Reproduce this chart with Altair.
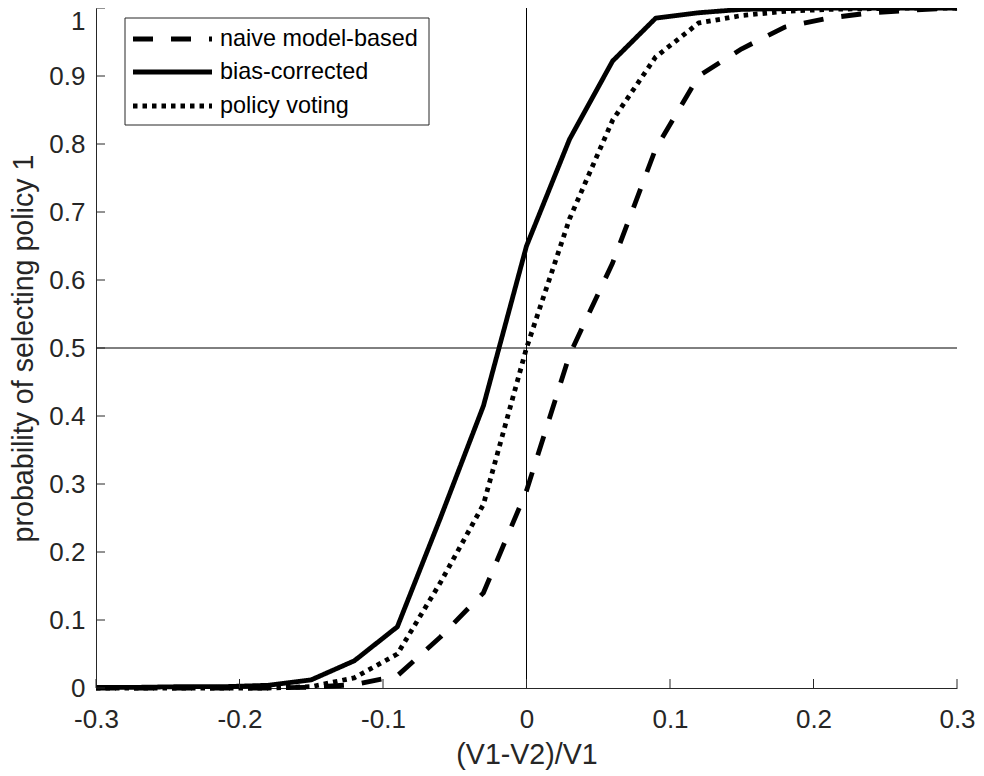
import altair as alt
import pandas as pd

# ---- data ----
x_vals = [-0.30, -0.27, -0.24, -0.21, -0.18, -0.15, -0.12, -0.09, -0.06, -0.03,
          0.00, 0.03, 0.06, 0.09, 0.12, 0.15, 0.18, 0.21, 0.24, 0.27, 0.30]
naive = [0.000, 0.000, 0.000, 0.000, 0.000, 0.001, 0.005, 0.018, 0.075, 0.140,
         0.290, 0.490, 0.625, 0.793, 0.900, 0.940, 0.972, 0.985, 0.993, 0.997, 1.000]
bias = [0.001, 0.001, 0.002, 0.002, 0.004, 0.012, 0.040, 0.090, 0.250, 0.415,
        0.650, 0.807, 0.922, 0.985, 0.993, 0.998, 0.999, 1.000, 1.000, 1.000, 1.000]
policy = [0.000, 0.000, 0.000, 0.000, 0.000, 0.002, 0.015, 0.050, 0.155, 0.270,
          0.500, 0.690, 0.835, 0.928, 0.978, 0.989, 0.995, 0.998, 0.999, 1.000, 1.000]
series_names = ["naive model-based", "bias-corrected", "policy voting"]
x_ticks = [-0.3, -0.2, -0.1, 0.0, 0.1, 0.2, 0.3]
y_ticks = [0.0, 0.1, 0.2, 0.3, 0.4, 0.5, 0.6, 0.7, 0.8, 0.9, 1.0]
ref_x = [0.0]
ref_y = [0.5]

rows = []
for name, vals in zip(series_names, [naive, bias, policy]):
    for xv, pv in zip(x_vals, vals):
        rows.append({"x": xv, "p": pv, "series": name})
df = pd.DataFrame(rows)

W, H = 861, 680
INK = "#262626"
FONT = "Liberation Sans"
LW = 4.8
DASHES = [[20, 18], [1, 0], [4.5, 5]]

xs = alt.Scale(domain=[-0.3, 0.3], nice=False, zero=False)
ys = alt.Scale(domain=[0, 1], nice=False, zero=False)

lab_expr = "datum.value < 0 ? '-' + format(-datum.value, '.1~f') : format(datum.value, '.1~f')"

common = dict(labelExpr=lab_expr, ticks=False, grid=False, labelFlush=False,
              labelOverlap=False, labelBound=False,
              labelFont=FONT, titleFont=FONT, labelFontSize=26, titleFontSize=28.6,
              titleFontWeight="normal", labelColor=INK, titleColor=INK,
              domainColor=INK, domainWidth=1)

x_axis = alt.Axis(values=x_ticks, title="(V1-V2)/V1",
                  labelPadding=18, labelBaseline="top",
                  titleY=66, titleBaseline="middle", **common)
y_axis = alt.Axis(values=y_ticks, title="probability of selecting policy 1",
                  labelPadding=11, titleX=-73, titleBaseline="middle",
                  labelOffset=alt.condition("datum.value == 1", alt.value(13), alt.value(0)),
                  **common)

lines = alt.Chart(df).mark_line(strokeWidth=LW, color="black", strokeCap="butt",
                                strokeJoin="round").encode(
    x=alt.X("x:Q", scale=xs, axis=x_axis),
    y=alt.Y("p:Q", scale=ys, axis=y_axis),
    strokeDash=alt.StrokeDash("series:N",
                              scale=alt.Scale(domain=series_names, range=DASHES),
                              legend=None),
    detail="series:N",
    order="x:Q",
)

vline = alt.Chart(pd.DataFrame({"x": ref_x})).mark_rule(color="black", strokeWidth=1).encode(
    x=alt.X("x:Q", scale=xs))
hline = alt.Chart(pd.DataFrame({"p": ref_y})).mark_rule(color="black", strokeWidth=1).encode(
    y=alt.Y("p:Q", scale=ys))

xtick_marks = alt.Chart(pd.DataFrame({"x": x_ticks})).mark_rule(color=INK, strokeWidth=1).encode(
    x=alt.X("x:Q", scale=xs), y=alt.value(H), y2=alt.value(H - 9))
ytick_marks = alt.Chart(pd.DataFrame({"p": y_ticks})).mark_rule(color=INK, strokeWidth=1).encode(
    y=alt.Y("p:Q", scale=ys), x=alt.value(0), x2=alt.value(9))

# legend (drawn by hand, MATLAB style)
leg_box = alt.Chart(pd.DataFrame({"a": [0]})).mark_rect(
    fill="white", stroke=INK, strokeWidth=1).encode(
    x=alt.value(29), x2=alt.value(333), y=alt.value(10), y2=alt.value(117))

row_y = [31, 64, 98]
leg_layers = [leg_box]
for name, dash, ry in zip(series_names, DASHES, row_y):
    leg_layers.append(
        alt.Chart(pd.DataFrame({"a": [0]})).mark_rule(
            color="black", strokeWidth=LW, strokeDash=dash, strokeCap="butt").encode(
            x=alt.value(37), x2=alt.value(116), y=alt.value(ry)))
    leg_layers.append(
        alt.Chart(pd.DataFrame({"a": [0]})).mark_text(
            align="left", baseline="middle", font=FONT, fontSize=23.4, color="black").encode(
            x=alt.value(124), y=alt.value(ry), text=alt.value(name)))

chart = alt.layer(lines, vline, hline, xtick_marks, ytick_marks, *leg_layers).properties(
    width=W, height=H,
    background="white",
    padding={"left": 88, "top": 0, "right": 19, "bottom": 88},
    autosize=alt.AutoSizeParams(type="none"),
).configure_view(strokeWidth=0)

chart.save("out.html", embed_options={"renderer": "svg", "actions": False})
